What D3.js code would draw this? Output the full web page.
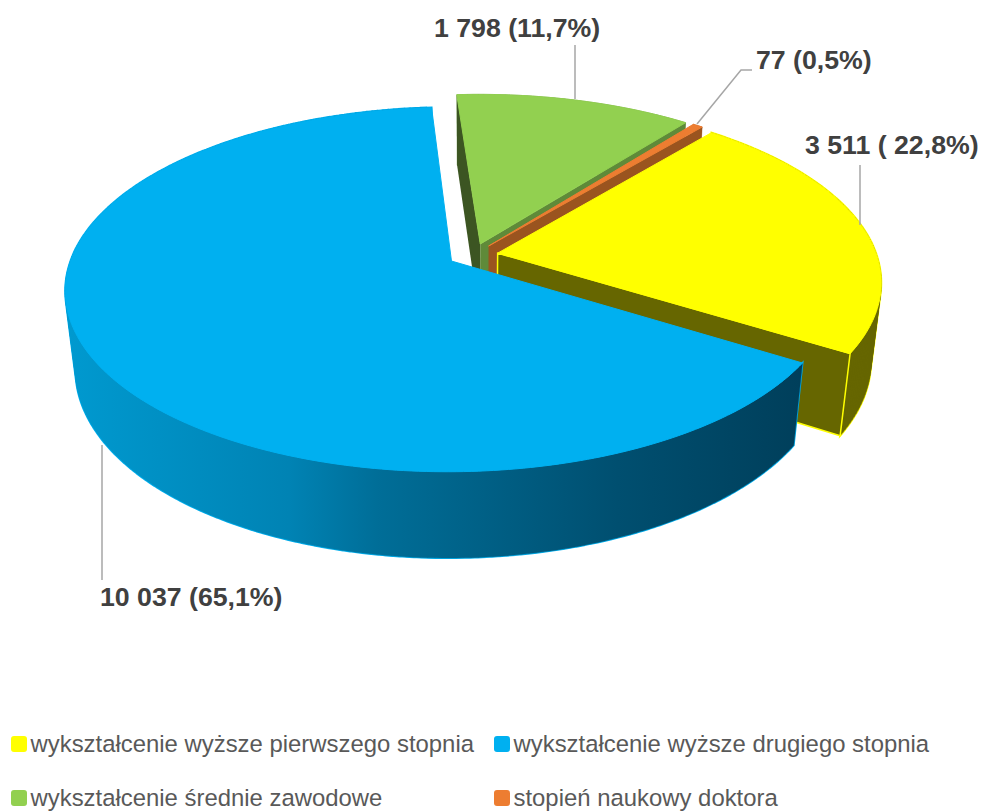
<!DOCTYPE html>
<html>
<head>
<meta charset="utf-8">
<script src="https://cdn.jsdelivr.net/npm/d3@7"></script>
<style>
  body { margin: 0; background: #fff; }
  svg { display: block; }
  text { font-family: "Liberation Sans", Arial, sans-serif; }
</style>
</head>
<body>
<div id="canvas"></div>
<script>
var categories = [
  "wykształcenie wyższe pierwszego stopnia",
  "wykształcenie wyższe drugiego stopnia",
  "wykształcenie średnie zawodowe",
  "stopień naukowy doktora"
];
var values = [3511, 10037, 1798, 77];
var valueLabels = ["3 511 ( 22,8%)", "10 037 (65,1%)", "1 798 (11,7%)", "77 (0,5%)"];
var topColors = ["#ffff00", "#00b0f0", "#92d050", "#ed7d31"];
var wallColors = ["#666600", "#00405c", "#5f8a39", "#9a541f"];

var width = 981, height = 811;

var svg = d3.select("#canvas").append("svg")
  .attr("width", width)
  .attr("height", height);

// wall shading of the big slice
var grad = svg.append("defs").append("linearGradient")
  .attr("id", "blueWall")
  .attr("gradientUnits", "userSpaceOnUse")
  .attr("x1", 70).attr("x2", 800).attr("y1", 0).attr("y2", 0);
grad.selectAll("stop")
  .data([[0, "#0099cf"], [0.3, "#0083b4"], [0.42, "#006e98"], [0.75, "#004f70"], [1, "#003f5b"]])
  .enter().append("stop")
  .attr("offset", function(d) { return d[0]; })
  .attr("stop-color", function(d) { return d[1]; });

// perspective of the tilted disc, fitted on the picture
var cx = 473, cy = 255,
  scaleX = 379, scaleY = 176,
  tilt = 0.155,          // near edge grows, far edge shrinks
  depthY = 80,           // wall height
  depthW = 0.025,        // bottom plane is a bit further away
  explode = 0.066;

function project(x, y, z) {
  var w = 1 - tilt * y + depthW * z;
  return [cx + scaleX * x / w, cy + (scaleY * y + depthY * z) / w];
}

var pie = d3.pie()
  .sort(null)
  .startAngle(39.8 * Math.PI / 180)
  .endAngle((39.8 + 360) * Math.PI / 180);

var slices = pie(values).map(function(d, i) {
  var mid = (d.startAngle + d.endAngle) / 2;
  d.i = i;
  d.ox = explode * Math.sin(mid);
  d.oy = -explode * Math.cos(mid);
  return d;
});

function apex(d, z) { return project(d.ox, d.oy, z); }

function rim(d, a, z) {
  return project(d.ox + Math.sin(a), d.oy - Math.cos(a), z);
}

function arcPoints(d, z) {
  var n = Math.max(4, Math.ceil((d.endAngle - d.startAngle) * 60));
  return d3.range(n + 1).map(function(k) {
    return rim(d, d.startAngle + (d.endAngle - d.startAngle) * k / n, z);
  });
}

var line = d3.line();

function topPath(d) {
  return line([apex(d, 0)].concat(arcPoints(d, 0))) + "Z";
}

// outer wall as a strip of quads, all wound the same way so the
// silhouette between top and bottom rim is filled too
function outerWall(d) {
  var a = arcPoints(d, 0), b = arcPoints(d, 1), out = "";
  for (var k = 0; k < a.length - 1; k++) {
    var quad = [a[k], a[k + 1], b[k + 1], b[k]];
    if (d3.polygonArea(quad) < 0) quad.reverse();
    out += line(quad) + "Z";
  }
  return out;
}
function cutWall(d, a) {
  return line([apex(d, 0), rim(d, a, 0), rim(d, a, 1), apex(d, 1)]) + "Z";
}

// painter's order: green, orange, yellow, blue
var order = [2, 3, 0, 1];
var g = svg.append("g");

order.forEach(function(i) {
  var d = slices[i];
  var wall = i === 1 ? "url(#blueWall)" : wallColors[i];
  var edge = (i === 0 || i === 1) ? topColors[i] : "none";

  // thin bright outline: stroke below, fill on top of it
  if (edge !== "none") {
    g.append("path")
      .attr("d", outerWall(d))
      .attr("fill", "none")
      .attr("stroke", edge)
      .attr("stroke-width", 2);
  }
  g.append("path")
    .attr("d", outerWall(d))
    .attr("fill", wall)
    .attr("stroke", wall)
    .attr("stroke-width", 0.4);
  if (i === 2) {
    // left cut of the green slice is darker than the other one
    g.append("path").attr("d", cutWall(d, d.startAngle)).attr("fill", "#3c5522");
  }
  if (i !== 1) {
    g.append("path")
      .attr("d", cutWall(d, d.endAngle))
      .attr("fill", wallColors[i])
      .attr("stroke", edge)
      .attr("stroke-width", 1.5);
  }
  g.append("path")
    .attr("d", topPath(d))
    .attr("fill", topColors[i])
    .attr("stroke", topColors[i])
    .attr("stroke-width", 1);
});

// leader lines
var leaders = [
  [[860, 165], [860, 225]],
  [[102, 445], [102, 580]],
  [[575, 45], [575, 99]],
  [[752, 70], [741, 70], [697, 124]]
];
svg.append("g").selectAll("path")
  .data(leaders)
  .enter().append("path")
  .attr("d", function(d) { return line(d); })
  .attr("fill", "none")
  .attr("stroke", "#a6a6a6")
  .attr("stroke-width", 1.5);

// value labels
var labelPos = [[805, 154], [100, 606], [434, 37], [756, 69]];
svg.append("g").selectAll("text")
  .data(valueLabels)
  .enter().append("text")
  .attr("x", function(d, i) { return labelPos[i][0]; })
  .attr("y", function(d, i) { return labelPos[i][1]; })
  .attr("font-size", 26.7)
  .attr("font-weight", "bold")
  .attr("fill", "#404040")
  .text(function(d) { return d; });

// legend
var legendPos = [[11, 752], [494, 752], [11, 806], [494, 806]];
var legend = svg.append("g").selectAll("g")
  .data(categories)
  .enter().append("g")
  .attr("transform", function(d, i) { return "translate(" + legendPos[i][0] + "," + legendPos[i][1] + ")"; });
legend.append("rect")
  .attr("x", 0).attr("y", -16)
  .attr("width", 16).attr("height", 16)
  .attr("rx", 3)
  .attr("fill", function(d, i) { return topColors[i]; });
legend.append("text")
  .attr("x", 19.5)
  .attr("font-size", 23.9)
  .attr("fill", "#595959")
  .text(function(d) { return d; });
</script>
</body>
</html>
